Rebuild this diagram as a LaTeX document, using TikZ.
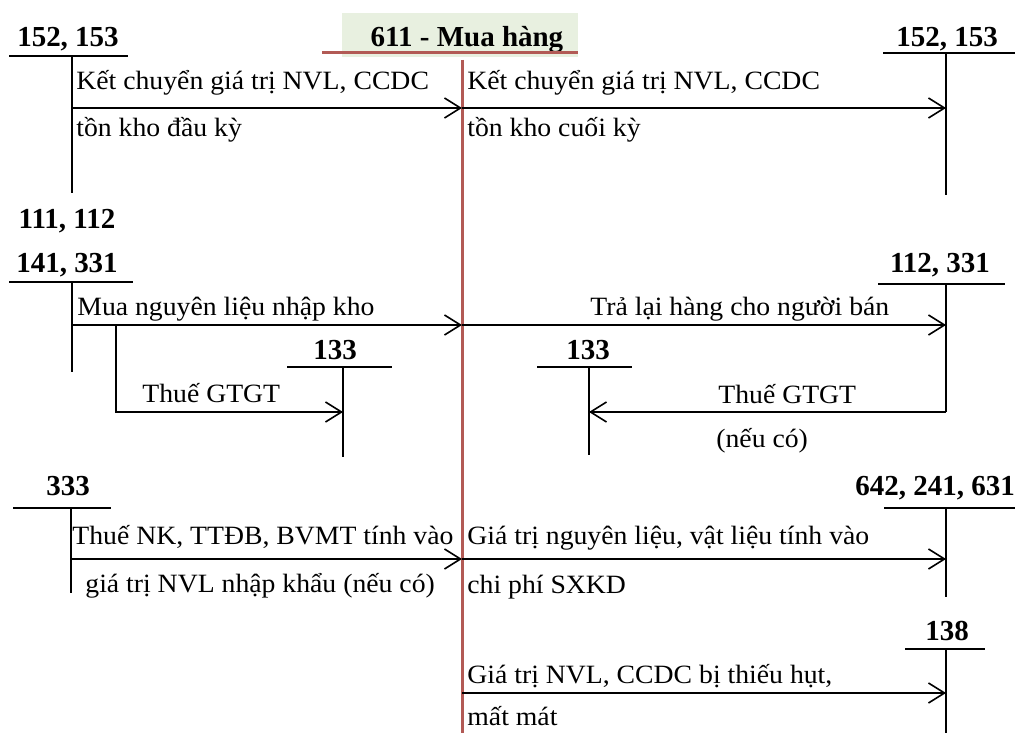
\documentclass[tikz,border=0pt]{standalone}
\usepackage{fontspec}
\setmainfont{Liberation Serif}
\newfontfamily\bodyfont[FakeStretch=1.05]{Liberation Serif}
\usetikzlibrary{arrows.meta}

\definecolor{hdrgreen}{HTML}{E8F0E0}
\definecolor{redline}{HTML}{B25A55}

\begin{document}
\begin{tikzpicture}[x=0.5pt,y=-0.5pt,
	acc/.style={font=\fontsize{14.5}{17}\selectfont\bfseries, inner sep=0pt, anchor=base},
	txt/.style={font=\bodyfont\fontsize{13.2}{15}\selectfont, inner sep=0pt, anchor=base west},
	tline/.style={line width=0.8pt},
	flow/.style={line width=0.8pt, -{Straight Barb[length=8pt,width=10pt,line width=0.8pt]}}]
	\useasboundingbox[fill=white] (0,0) rectangle (1030,733);
	% account 611 in the middle
	\fill[hdrgreen] (342,13) rectangle (578,57);
	\node[acc] (a611) at (467,47) {611 - Mua hàng};
	\draw[redline, line width=1.5pt] (322,53) -- (578,53);
	\coordinate (m0) at (462,60);
	\coordinate (m1) at (462,733);
	\draw[redline, line width=1.5pt] (m0) -- (m1);
	% opening and closing stock
	\node[acc] (a152l) at (68,47) {152, 153};
	\draw[tline] (9,56) -- (128,56);
	\coordinate (t152l) at (72,56);
	\draw[tline] (t152l) -- ++(0,137);
	\node[acc] (a152r) at (947,47) {152, 153};
	\draw[tline] (883,53) -- (1015,53);
	\coordinate (t152r) at (946,53);
	\draw[tline] (t152r) -- ++(0,142);
	\coordinate (s1) at (72,108);
	\draw[flow] (s1) -- (s1 -| m0);
	\draw[flow] (s1 -| m0) -- (s1 -| t152r);
	\node[txt] (k1a) at (76,90) {Kết chuyển giá trị NVL, CCDC};
	\node[txt] (k1b) at (76,137) {tồn kho đầu kỳ};
	\node[txt] (k2a) at (467,90) {Kết chuyển giá trị NVL, CCDC};
	\node[txt] (k2b) at (467,137) {tồn kho cuối kỳ};
	% purchases and returns
	\node[acc] (a111) at (67,229) {111, 112};
	\node[acc] (a141) at (67,272) {141, 331};
	\draw[tline] (9,282) -- (133,282);
	\coordinate (t111) at (72,282);
	\draw[tline] (t111) -- ++(0,90);
	\node[acc] (a112) at (940,272) {112, 331};
	\draw[tline] (878,284) -- (1005,284);
	\coordinate (t112) at (946,284);
	\coordinate (s5) at (946,412);
	\draw[tline] (t112) -- (s5);
	\coordinate (s3) at (72,325);
	\draw[flow] (s3) -- (s3 -| m0);
	\draw[flow] (s3 -| m0) -- (s3 -| t112);
	\node[txt] (k3) at (77,315) {Mua nguyên liệu nhập kho};
	\node[txt] (k4) at (590,315) {Trả lại hàng cho người bán};
	% vat 133 on both sides
	\node[acc] (a133l) at (335,359) {133};
	\draw[tline] (287,367) -- (392,367);
	\coordinate (t133l) at (343,367);
	\draw[tline] (t133l) -- ++(0,90);
	\coordinate (b1) at (116,325);
	\draw[flow] (b1) |- (t133l |- s5);
	\node[txt] (k5) at (142,402) {Thuế GTGT};
	\node[acc] (a133r) at (588,359) {133};
	\draw[tline] (537,367) -- (632,367);
	\coordinate (t133r) at (589,367);
	\draw[tline] (t133r) -- ++(0,88);
	\draw[flow] (s5) -- (s5 -| t133r);
	\node[txt] (k6a) at (718,403) {Thuế GTGT};
	\node[txt] (k6b) at (716,447) {(nếu có)};
	% import taxes and usage
	\node[acc] (a333) at (68,495) {333};
	\draw[tline] (13,508) -- (111,508);
	\coordinate (t333) at (71,508);
	\draw[tline] (t333) -- ++(0,85);
	\node[acc] (a642) at (935,495) {642, 241, 631};
	\draw[tline] (884,508) -- (1015,508);
	\coordinate (t642) at (946,508);
	\draw[tline] (t642) -- ++(0,89);
	\coordinate (s6) at (71,559);
	\draw[flow] (s6) -- (s6 -| m0);
	\draw[flow] (s6 -| m0) -- (s6 -| t642);
	\node[txt] (k7a) at (72,545) {Thuế NK, TTĐB, BVMT tính vào};
	\node[txt] (k7b) at (85,592) {giá trị NVL nhập khẩu (nếu có)};
	\node[txt] (k8a) at (467,545) {Giá trị nguyên liệu, vật liệu tính vào};
	\node[txt] (k8b) at (467,593) {chi phí SXKD};
	% shortage
	\node[acc] (a138) at (947,640) {138};
	\draw[tline] (905,649) -- (985,649);
	\coordinate (t138) at (946,649);
	\draw[tline] (t138) -- (946,733);
	\coordinate (s8) at (462,693);
	\draw[flow] (s8) -- (s8 -| t138);
	\node[txt] (k9a) at (467,683) {Giá trị NVL, CCDC bị thiếu hụt,};
	\node[txt] (k9b) at (467,725) {mất mát};
\end{tikzpicture}
\end{document}
